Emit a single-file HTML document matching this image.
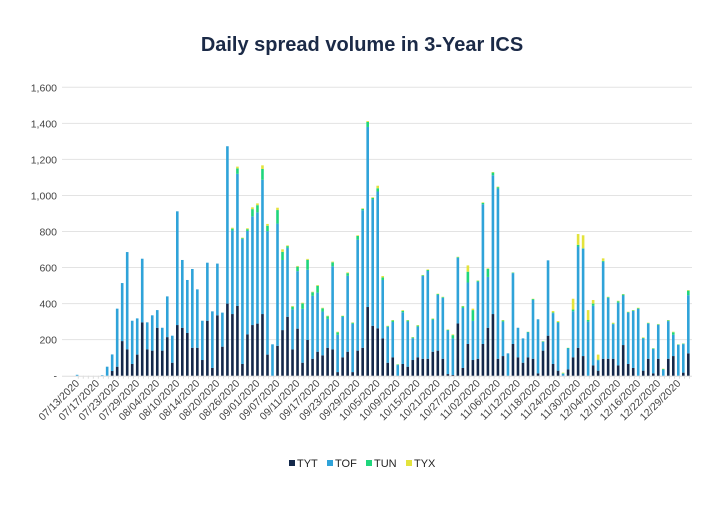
<!DOCTYPE html>
<html><head><meta charset="utf-8"><style>
body{margin:0;background:#fff;width:720px;height:500px;overflow:hidden;font-family:"Liberation Sans",sans-serif}
</style></head><body>
<svg id="c" width="720" height="500" xmlns="http://www.w3.org/2000/svg">
<text x="362" y="51" text-anchor="middle" font-family="Liberation Sans, sans-serif" font-size="20" font-weight="bold" fill="#1b2a47">Daily spread volume in 3-Year ICS</text>
<g id="grid"></g><g id="bars"></g><g id="xl"></g>
<g font-family="Liberation Sans, sans-serif" font-size="11" fill="#222">
<rect x="289" y="460" width="6" height="6" fill="#13284a"/><text x="297" y="467">TYT</text>
<rect x="327" y="460" width="6" height="6" fill="#2fa3d9"/><text x="335" y="467">TOF</text>
<rect x="366" y="460" width="6" height="6" fill="#1fd67c"/><text x="374" y="467">TUN</text>
<rect x="406" y="460" width="6" height="6" fill="#e3e33c"/><text x="414" y="467">TYX</text>
</g>
</svg>
<script>
var NS="http://www.w3.org/2000/svg";
function el(t,a,p,txt){var e=document.createElementNS(NS,t);for(var k in a)e.setAttribute(k,a[k]);if(txt)e.textContent=txt;document.getElementById(p).appendChild(e);return e;}
var y0=375.7,sc=(375.7-87.3)/1600;
for(var v=0;v<=1600;v+=200){var y=y0-v*sc;
 if(v>0)el("line",{x1:62,x2:692,y1:y,y2:y,stroke:"#e3e3e3","stroke-width":1},"grid");
 el("text",{x:57,y:y+4,"text-anchor":"end","font-size":10.5,fill:"#444","font-family":"Liberation Sans, sans-serif"},"grid",v==0?"-":v.toLocaleString("en-US"));}
el("line",{x1:62,x2:692,y1:y0+0.5,y2:y0+0.5,stroke:"#ddd"},"grid");
var d=[[5,0],[0,0],[0,0],[0,0],[0,0],[3,0],[50,0],[118,26],[372,50],[514,192],[686,146],[305,65],[318,117],[649,296],[296,146],[335,139],[364,266],[266,139],[440,214],[222,72],[912,281],[642,266],[531,237],[592,155],[479,155],[305,87],[627,305],[357,43],[622,335],[350,161],[1273,400],[821,342,10,5],[1160,387,30,10],[766,65,5,3],[818,229,10,5],[934,281,40,10],[956,289,40,10],[1167,342,60,20],[842,117,30,10],[174,0],
[932,166,75,13],[701,253,45,14],[723,327,10,4],[387,146,15,4],[609,261,25,4],[405,72,30,4],[648,198,55,5],[466,94,20,3],[503,133,38,4],[377,113,18,3],[333,155,15,3],[633,146,22,4],[244,20,14,3],[333,102,5,2],[573,133,15,4],[296,20,6,2],[779,139,20,4],[929,155,8,3],[1413,381,28,5],[990,277,8,4],[1054,263,18,14],[553,207,14,8],[277,72,4,2],[309,102,8,3],[63,0,3,1],[364,65,8,4],[309,50,6,2],[214,87,4,2],[281,102,6,3],[559,94,4,2],[590,94,6,3],[318,133,6,2],[455,139,5,2],[438,94,4,2],[257,9,4,2],[229,4,18,4],[660,290,4,2],[387,43,8,3],[612,176,60,35],[372,87,60,8],[529,94,6,2],[962,176,8,3],
[596,266,45,3],[1130,342,15,3],[1049,94,8,3],[309,109,6,3],[124,0],[573,176,3,1],[266,102],[207,72],[244,102,3,1],[427,94,5,2],[313,13],[192,139,3,1],[640,222],[359,65,4,8],[303,28,4,5],[17,0,3,3],[155,35,3,1],[427,102,9,60],[786,155,9,60],[779,109,2,72],[364,0,9,55],[420,57,12,20],[117,28,3,28],[651,94,5,14],[438,94,4,2],[294,94,3,5],[416,57,8,3],[453,170,6,2],[355,65,3,2],[364,43,3,2],[377,0,4,3],[213,28,3,3],[294,94,3,2],[152,13,3,1],[287,94,3,2],[39,0,3,2],[309,94,4,2],[244,109,14,3],[174,0,2,1],[179,17,3,1],[475,124,25,3]];
for(var i=0;i<d.length;i++){var r=d[i],x=75.8+i*5.01,w=2.6,t=r[0],k=r[1]||0,g=r[2]||0,yy=r[3]||0;
 var tof=t-k-g-yy; var cur=y0;
 function seg(v,c){if(v<=0)return;var h=v*sc;el("rect",{x:x,y:cur-h,width:w,height:h,fill:c},"bars");cur-=h;}
 seg(k,"#13284a");seg(tof,"#2fa3d9");seg(g,"#1fd67c");seg(yy,"#e3e33c");}
var labs=["07/13","07/17","07/23","07/29","08/04","08/10","08/14","08/20","08/26","09/01","09/07","09/11","09/17","09/23","09/29","10/05","10/09","10/15","10/21","10/27","11/02","11/06","11/12","11/18","11/24","11/30","12/04","12/10","12/16","12/22","12/29"];
for(var j=0;j<labs.length;j++){var x=77+j*20.04;
 el("text",{x:0,y:0,"text-anchor":"end","font-size":10.5,fill:"#444","font-family":"Liberation Sans, sans-serif",transform:"translate("+(x+3)+",384) rotate(-45)"},"xl",labs[j]+"/2020");}
for(var i=0;i<123;i++){var x=77+i*5.01;el("line",{x1:x+1.3,x2:x+1.3,y1:y0,y2:y0+3,stroke:"#ddd"},"grid");}
</script>
</body></html>
